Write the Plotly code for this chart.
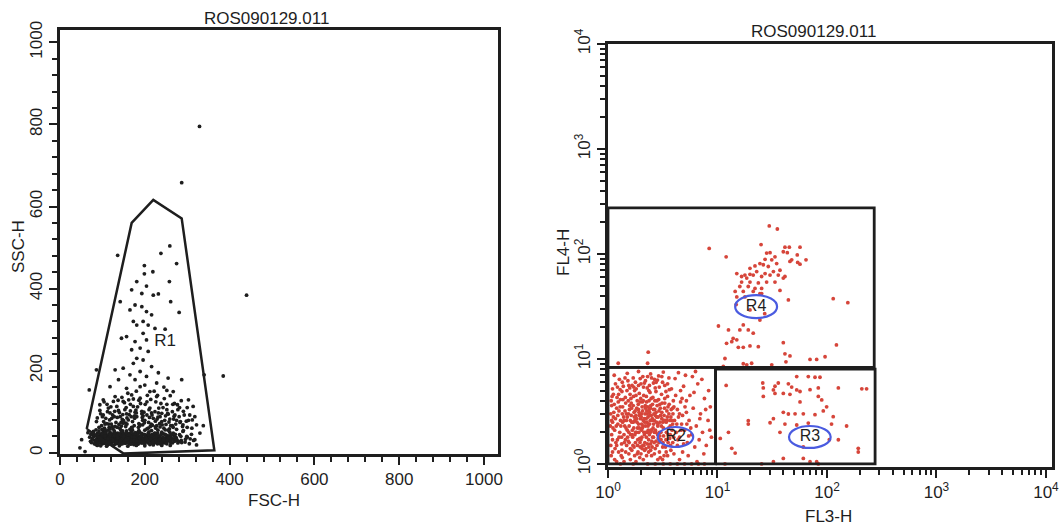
import plotly.graph_objects as go

# ---------------- data ----------------
title_text = "ROS090129.011"

# Left plot: FSC-H vs SSC-H events
left_core = [
    (70,38),(74,25),(78,44),(82,30),(85,20),(88,48),(90,36),(93,27),(95,42),(98,32),(100,22),(102,52),
    (104,38),(106,28),(108,45),(110,33),(112,19),(114,41),(116,30),(118,50),(120,24),(122,37),(124,44),
    (126,29),(128,34),(130,21),(132,47),(134,39),(136,26),(138,33),(140,42),(142,20),(144,36),(146,28),
    (148,49),(150,31),(152,40),(154,23),(156,35),(158,45),(160,27),(162,38),(164,22),(166,32),(168,43),
    (170,26),(172,36),(174,20),(176,30),(178,41),(180,25),(182,34),(184,21),(186,39),(188,28),(190,33),
    (192,24),(194,44),(196,29),(198,36),(200,22),(202,31),(204,27),(206,40),(208,24),(210,33),(212,20),
    (214,29),(216,37),(218,25),(220,31),(222,23),(224,42),(226,28),(228,35),(230,22),(232,30),(234,26),
    (236,38),(238,21),(240,33),(242,27),(244,46),(246,24),(248,31),(250,36),(252,22),(255,29),(258,41),
    (261,25),(264,33),(267,48),(270,28),(274,37),(278,24),(282,44),(286,30),(290,52),(295,26),(300,38),
    (305,22),(310,45),(315,30),
    (76,33),(80,40),(84,27),(87,35),(91,31),(94,46),(97,24),(99,39),(103,34),(105,23),(107,31),(109,40),
    (111,26),(113,36),(115,45),(117,22),(119,35),(121,30),(123,26),(125,40),(127,32),(129,27),(131,37),
    (133,30),(135,23),(137,43),(139,28),(141,35),(143,31),(145,24),(147,38),(149,27),(151,33),(153,45),
    (155,29),(157,25),(159,37),(161,32),(163,28),(165,40),(167,24),(169,35),(171,30),(173,42),(175,27),
    (177,34),(179,23),(181,37),(185,31),(189,26),(193,38),(197,32),(201,27),(205,35),(209,30),(213,43),
    (217,33),(221,27),(225,36),(229,31),(233,40),(237,29),(241,24),(245,35),(249,28),(253,42),(257,32),
    (262,38),(268,33),(276,30),
    (105,60),(125,58),(145,65),(165,57),(185,62),(205,58),(225,63),(245,60),(265,66),(115,70),(155,72),
    (195,68),(235,71),(275,57),(135,62),(175,66),(215,70),(255,55),
]
left_core_extra = [
    (72,28),(77,36),(81,22),(83,43),(86,30),(89,25),(92,39),(96,28),(101,44),(104,26),(108,36),(112,29),
    (116,38),(119,27),(123,33),(127,46),(130,29),(134,35),(138,24),(141,31),(144,44),(147,33),(151,26),
    (154,39),(158,30),(161,24),(164,35),(168,29),(172,46),(175,33),(178,28),(182,42),(186,24),(190,37),
    (194,30),(198,26),(203,43),(207,29),(211,38),(215,23),(219,35),(223,30),(227,26),(231,41),(235,33),
    (239,27),(243,38),(247,30),(251,25),(256,36),(260,29),(265,24),(270,40),(275,33),(280,27),(73,45),
    (79,52),(85,56),(92,53),(99,57),(107,50),(113,55),(120,46),(128,53),(136,48),(143,56),(150,46),
    (157,53),(164,47),(171,55),(178,49),(186,54),(193,47),(200,55),(208,48),(216,54),(223,47),(231,55),
    (240,50),(248,45),(259,50),(272,45),(285,40),(296,33),(88,18),(96,17),(110,16),(125,18),(140,17),
    (160,16),(180,18),(200,17),(220,19),(240,18),(260,18),(100,30),(117,33),(133,27),(152,36),(170,33),
    (187,29),(202,38),(219,27),(236,33),(253,31),
    (91,23),(94,34),(99,47),(102,27),(106,41),(110,23),(114,34),(118,44),(121,21),(125,30),(129,42),
    (132,25),(136,37),(140,46),(143,28),(147,22),(150,40),(153,29),(157,48),(160,35),(163,44),(167,21),
    (170,39),(174,30),(177,47),(181,29),(184,44),(188,35),(191,41),(195,24),(199,45),(204,33),(209,44),
    (214,35),(218,45),(222,39),(228,44),(233,24),(238,44),(244,31),(250,43),(88,41),(108,50),(128,50),
    (148,53),(168,51),(188,50),(210,51),(230,48),(115,26),(135,42),(155,32),(175,38),(195,34),(215,41),
]
left_mid = [
    (94,117),(114,109),(134,113),(153,105),(173,113),(193,101),(212,109),(232,97),(252,105),(271,92),
    (291,101),(314,113),(318,88),(102,92),(122,84),(142,88),(161,80),(181,88),(200,79),(220,84),(240,76),
    (259,82),(283,74),(303,79),(322,68),(338,66),(86,76),(110,71),(130,64),(149,72),(169,62),(189,68),
    (208,60),(228,66),(248,56),(267,62),(291,54),(311,60),(330,48),(94,103),(118,97),(138,103),(157,95),
    (177,99),(196,90),(216,97),(236,88),(255,94),(275,79),(106,56),(145,52),(185,52),(224,48),(263,44),
    (299,40),(318,32),(307,34),(287,25),(322,19),
    (98,66),(108,84),(116,62),(124,92),(132,74),(140,98),(147,81),(155,64),(163,93),(171,76),(179,104),
    (186,71),(194,86),(201,118),(209,74),(217,92),(225,77),(233,109),(241,68),(249,90),(257,75),(265,100),
    (273,70),(281,88),(289,64),(298,77),(306,92),(126,125),(146,135),(166,118),(186,128),(206,140),
    (226,124),(246,132),(266,118),(286,127),(112,100),(156,110),(198,99),(238,120),(278,105),(103,76),
    (121,70),(139,69),(158,85),(176,90),(195,79),(213,64),(231,87),(250,69),(268,82),(160,145),(180,150),
    (222,150),(245,160),(200,165),
]
left_mid_extra = [
    (92,62),(100,88),(106,70),(111,118),(117,80),(123,64),(129,101),(135,86),(141,60),(148,93),(152,122),
    (158,70),(166,102),(170,61),(176,84),(183,112),(188,66),(193,95),(199,73),(205,124),(211,86),(218,67),
    (224,100),(229,82),(236,63),(243,110),(247,79),(254,96),(261,66),(269,89),(277,117),(284,76),(293,92),
    (300,62),(312,80),(96,95),(104,124),(120,112),(137,128),(150,78),(162,129),(173,131),(190,120),
    (214,130),(230,140),(252,118),(260,139),(282,110),(88,85),(128,88),(180,97),(210,105),(240,96),
    (270,120),(300,110),(118,58),(144,74),(168,88),(205,92),(226,60),(258,58),(290,68),
]
left_upper = [
    (136,481),(238,486),(259,504),(275,461),(199,456),(219,441),(199,436),(258,417),(181,417),(204,406),
    (169,397),(193,388),(220,384),(232,387),(142,368),(261,368),(177,360),(193,356),(204,344),(165,348),
    (281,342),(216,336),(173,320),(196,320),(181,311),(208,311),(224,303),(248,301),(196,291),(157,283),
    (177,271),(204,275),(145,279),(189,255),(169,251),(208,247),(181,230),(196,226),(173,218),(216,210),
    (149,206),(189,198),(130,202),(232,195),(165,190),(204,186),(138,178),(177,178),(255,182),(287,178),
    (228,170),(118,161),(189,161),(157,157),(252,152),(267,149),(212,149),(169,141),(130,137),(228,137),
    (189,133),(303,129),(149,125),(102,129),
]
left_outliers = [
    (329,795),(287,658),(440,384),(385,187),(340,190),(69,153),(86,202),(51,32),(47,12),(59,3),(66,49),
]
r1_gate = [(63,58),(169,560),(220,616),(287,571),(364,6),(150,-2),(63,58)]
r1_label = ("R1", 248, 271)

# Right plot: FL3-H vs FL4-H events
r2_events = [
    (1.1,1.3),(1.15,2.1),(1.2,3.4),(1.22,1.7),(1.25,4.6),(1.3,2.6),(1.32,1.2),(1.35,3.0),(1.38,5.5),(1.4,1.9),
    (1.42,2.3),(1.45,3.8),(1.48,1.5),(1.5,2.8),(1.52,6.2),(1.55,2.0),(1.57,3.3),(1.6,1.4),(1.62,4.2),(1.65,2.5),
    (1.68,1.8),(1.7,3.6),(1.72,2.2),(1.75,5.0),(1.78,1.6),(1.8,2.9),(1.82,2.0),(1.85,4.0),(1.88,1.3),(1.9,2.4),
    (1.92,3.1),(1.95,1.75),(1.98,2.7),(2.0,5.8),(2.02,2.1),(2.05,3.5),(2.08,1.5),(2.1,2.6),(2.12,4.5),(2.15,1.9),
    (2.18,3.0),(2.2,2.3),(2.22,1.4),(2.25,3.9),(2.28,2.0),(2.3,6.8),(2.32,2.8),(2.35,1.7),(2.38,3.3),(2.4,2.4),
    (2.42,4.8),(2.45,1.55),(2.48,2.9),(2.5,2.1),(2.55,3.7),(2.6,1.8),(2.65,2.6),(2.7,5.3),(2.75,3.1),(2.8,1.5),
    (2.85,2.3),(2.9,4.1),(2.95,2.0),(3.0,3.4),(3.05,1.7),(3.1,2.7),(3.15,6.0),(3.2,2.2),(3.3,3.8),(3.35,1.45),
    (3.4,2.5),(3.5,4.4),(3.55,1.9),(3.6,3.0),(3.7,2.3),(3.8,5.2),(3.9,1.6),(4.0,3.5),
    (1.12,2.8),(1.18,1.6),(1.24,3.9),(1.28,2.0),(1.33,1.55),(1.36,2.5),(1.44,4.3),(1.46,2.2),(1.53,1.65),
    (1.58,3.6),(1.63,2.9),(1.66,5.6),(1.73,1.45),(1.76,2.6),(1.83,3.4),(1.86,2.2),(1.93,4.7),(1.96,1.6),
    (2.03,2.4),(2.06,3.9),(2.13,2.0),(2.16,1.35),(2.23,2.7),(2.26,3.2),(2.33,2.1),(2.36,5.0),(2.43,2.6),
    (2.46,3.6),(2.53,1.45),(2.58,2.2),(2.63,3.0),(2.68,4.0),(2.73,2.0),(2.78,2.8),(2.83,6.3),(2.88,1.75),
    (2.98,2.5),(3.08,4.6),(3.18,1.6),(3.25,2.9),(3.45,3.2),(3.65,1.75),(3.75,2.8),(3.95,4.0),(1.08,3.6),
    (1.1,5.2),(1.14,7.0),(1.2,1.05),(1.27,6.4),(1.34,4.9),(1.5,7.3),(1.6,1.1),(1.7,6.6),(1.9,7.6),(2.1,1.1),
    (2.2,6.2),(2.45,7.2),(2.6,5.9),(2.9,6.9),(3.2,7.5),(1.05,2.3),(1.06,1.5),(1.4,1.05),(1.8,1.05),(2.0,1.25),
    (2.5,1.2),(3.0,1.15),(3.4,1.3),
    (4.2,2.0),(4.3,1.5),(4.4,2.8),(4.5,1.8),(4.6,3.9),(4.7,2.4),(4.8,1.3),(4.9,5.5),(5.0,2.1),(5.2,3.1),
    (5.3,1.6),(5.5,2.6),(5.6,4.5),(5.8,1.9),(6.0,3.4),(6.2,1.45),(6.4,2.3),(6.6,5.8),(6.8,1.7),(7.0,3.0),
    (7.3,2.0),(7.6,4.2),(7.9,1.5),(8.2,2.6),(8.6,3.5),(8.8,1.8),(4.1,6.5),(4.4,7.4),(5.1,7.0),(5.9,6.8),
    (6.3,7.6),(7.2,6.4),(4.5,1.1),(5.4,1.2),(6.5,1.05),(7.5,1.25),(8.3,5.0),(3.3,5.6),(3.6,6.6),(3.9,2.4),
    (4.0,1.25),(4.3,3.3),(4.8,2.9),(5.7,2.2),(6.9,2.7),(7.8,3.3),(8.5,2.1),(4.6,5.0),(5.2,4.0),(6.1,4.8),
    (1.3,1.0),(1.7,1.0),(2.3,1.0),(2.7,1.0),(3.2,1.0),(3.7,1.0),(4.3,1.0),(5.0,1.0),(5.8,1.0),(6.7,1.0),(7.6,1.0),
]
r2_events_extra = [
    (1.08,1.9),(1.1,2.5),(1.13,3.1),(1.16,1.4),(1.19,2.3),(1.21,4.3),(1.23,2.9),(1.26,1.8),(1.29,3.5),
    (1.31,2.3),(1.34,1.35),(1.37,4.1),(1.39,2.8),(1.41,1.6),(1.43,3.2),(1.47,2.6),(1.49,5.0),(1.51,1.8),
    (1.54,3.0),(1.56,2.3),(1.59,4.6),(1.61,1.9),(1.64,3.4),(1.67,2.1),(1.69,1.5),(1.71,4.4),(1.74,2.8),
    (1.77,3.2),(1.79,2.0),(1.81,5.2),(1.84,2.5),(1.87,1.7),(1.89,3.7),(1.91,2.0),(1.94,2.9),(1.97,1.45),
    (1.99,4.2),(2.01,2.8),(2.04,1.8),(2.07,3.2),(2.09,2.3),(2.11,5.4),(2.14,2.7),(2.17,1.6),(2.19,3.6),
    (2.21,2.0),(2.24,4.4),(2.27,2.5),(2.29,1.55),(2.31,3.5),(2.34,2.4),(2.37,4.0),(2.39,1.9),(2.41,2.9),
    (2.44,3.4),(2.47,2.1),(2.51,1.65),(2.54,2.7),(2.57,4.3),(2.61,2.4),(2.64,1.6),(2.67,3.3),(2.71,2.1),
    (2.74,4.9),(2.77,2.5),(2.81,3.6),(2.84,1.9),(2.87,2.8),(2.92,3.2),(2.97,1.85),(3.02,2.9),(3.07,2.3),
    (3.12,3.8),(3.17,2.5),(3.22,1.85),(3.28,3.4),(3.32,2.6),(3.38,4.9),(3.42,2.0),(3.48,2.8),(3.53,3.5),
    (3.58,2.2),(3.63,5.1),(3.68,2.6),(3.72,1.5),(3.78,3.3),(3.85,2.1),(3.92,3.0),(3.98,1.8),(4.05,2.6),
    (4.15,4.5),(4.25,2.4),(4.35,1.7),(4.5,3.0),(4.65,2.1),(4.75,4.2),(4.9,1.55),(5.05,3.5),(5.25,2.4),
    (5.45,1.85),(1.07,1.2),(1.09,4.4),(1.17,5.8),(1.29,5.1),(1.43,6.6),(1.58,5.3),(1.78,6.0),(1.97,6.5),
    (2.15,5.9),(2.39,5.6),(2.66,6.4),(2.94,5.4),(3.1,6.8),(3.5,5.8),(1.15,1.1),(1.35,1.15),(1.55,1.25),
    (1.75,1.2),(1.95,1.15),(2.35,1.3),(2.65,1.25),(2.85,1.1),(3.25,1.2),(3.75,1.35),
    (1.11,2.2),(1.14,3.7),(1.17,2.7),(1.2,1.5),(1.23,2.4),(1.26,3.2),(1.3,4.1),(1.33,1.8),(1.36,3.5),
    (1.4,2.6),(1.44,1.7),(1.47,3.0),(1.5,2.1),(1.53,4.0),(1.56,1.6),(1.6,2.6),(1.63,3.8),(1.66,1.9),
    (1.7,2.5),(1.73,3.1),(1.76,1.9),(1.8,4.5),(1.83,2.7),(1.86,1.5),(1.9,3.3),(1.93,2.2),(1.96,3.9),
    (2.0,1.7),(2.03,3.0),(2.06,2.2),(2.1,4.0),(2.13,1.5),(2.17,2.5),(2.2,3.4),(2.24,1.8),(2.28,3.0),
    (2.32,2.3),(2.36,1.45),(2.4,3.1),(2.44,2.0),(2.48,4.2),(2.52,2.6),(2.56,1.8),(2.6,3.3),(2.65,2.0),
    (2.7,2.9),(2.75,1.65),(2.8,4.0),(2.86,2.4),(2.92,1.6),(2.98,3.7),(3.04,2.0),(3.1,3.1),(3.16,1.45),
    (3.22,2.6),(3.3,4.2),(3.38,1.7),(3.46,2.6),(3.54,1.6),(3.62,3.7),(3.7,1.9),(3.8,2.6),(3.9,3.4),
    (1.12,4.6),(1.22,5.4),(1.35,6.0),(1.55,5.6),(1.72,5.4),(1.9,5.6),(2.08,6.8),(2.28,5.3),(2.5,6.6),
    (2.75,6.0),(1.06,3.0),(1.07,4.0),(1.08,2.6),(1.1,1.7),(1.25,1.3),(1.45,1.3),(1.65,1.35),(1.85,1.25),
    (2.05,1.4),(2.25,1.2),(2.45,1.35),(2.7,1.4),(2.95,1.3),(3.15,1.1),(3.5,1.2),
]
near_r2_top = [(2.33,11.6),(2.3,9.1),(1.24,9.1)]
r4_events = [
    (29.7,185),(35.2,173),(8.4,113),(12.0,94),(25,123),(41.3,116),(45.3,116),(56.7,116),(39.9,105),(43.4,103),
    (53.5,98),(64.3,88),(56.7,80),(54,83),(47.6,88),(45.9,85),(28.1,102),(30.2,103),(33.5,94),(27.2,89),
    (31.3,88),(24.4,81),(22.0,77),(26.2,79),(29.1,76),(34.7,81),(37.2,70),(32.4,68),(27.2,65),(22.8,68),
    (19.8,73),(21.2,63),(25.3,61),(30.2,63),(35.9,63),(39.9,59),(18.5,59),(16.6,54),(19.8,54),(23.6,53),
    (28.1,54),(33.5,54),(16.0,49),(19.1,49),(22.0,47),(25.3,47),(14.5,44),(17.2,44),(21.2,44),(25.3,42),
    (15.0,39),(17.8,39),(37.2,45),(41.3,61),(15.0,65),(16.6,61),(17.8,63),(19.8,64),
    (10.2,20.6),(12.6,18.9),(13.9,15.7),(16.0,18.9),(17.2,21.1),(19.1,18.9),(21.2,17.6),(12.1,14.1),
    (13.5,14.6),(15.0,15.2),(15.5,12.9),(17.2,12.9),(19.8,13.3),(23.6,13.1),(11.7,10.1),(11.3,8.5),
    (17.2,9.0),(18.5,8.8),(20.5,9.1),(31.3,8.8),(39.9,14.3),(41.3,11.2),(45.9,10.7),(42.2,9.4),(70,9.9),
    (80.5,9.9),(96,10.5),(122,13.6),(114,37.5),(155,34.4),(44.4,36.5),(24.4,23.5),(24.4,42),(19.8,29.3),
    (27,27),(14.8,33),
]
r3_events = [
    (52.9,6.8),(67.5,6.8),(77.7,6.7),(86.3,6.7),(35.9,5.9),(44.4,5.8),(47.6,5.4),(56.7,4.9),(70,5.1),
    (83.3,5.3),(26.2,5.3),(33.5,4.7),(39.9,4.7),(45.9,4.6),(26.2,4.4),(127,5.3),(208,5.2),(230,5.2),
    (83.3,4.4),(56.7,3.9),(99.3,3.5),(39.9,3.1),(51.1,3.0),(60.8,3.0),(77.7,2.95),(92.5,3.2),(32.4,2.7),
    (19.1,2.4),(41.3,2.4),(52.9,2.35),(67.5,2.45),(110,2.4),(151,2.3),(37.2,2.0),(127,1.7),(105,1.7),
    (12.6,2.0),(10.6,1.75),(14.5,1.27),(193,1.3),(39.9,1.13),(60.8,1.13),(70,1.05),(83.3,1.0),(25.3,1.0),
    (11.7,1.0),(60.8,1.45),(12.0,5.6),(25.9,5.9),(33.5,5.5),(32.4,5.07),(52.9,5.07),(89.5,4.07),(114,2.82),
    (19.1,2.58),(30.2,2.47),(44.4,2.99),(13.5,1.41),(193,1.41),(32.4,1.05),(80.5,1.05),
]
# gates: (x0, x1, y0, y1) in data units
r2_gate = (1.0, 9.6, 1.0, 8.3)
r3_gate = (9.6, 275, 1.0, 8.0)
r4_gate = (1.0, 270, 8.3, 275)
# ellipse labels: name, x-range, y-range, label position
r2_label = ("R2", (2.85, 6.0), (1.45, 2.25), (4.15, 1.8))
r3_label = ("R3", (45, 108), (1.42, 2.3), (70, 1.8))
r4_label = ("R4", (14.5, 35), (24.5, 40.5), (22.5, 31.5))

# ---------------- figure ----------------
FONT = "Liberation Sans, Arial, Helvetica, sans-serif"
INK = "#1e1e1e"
RED = "#d6453a"
BLUE = "#4a5be0"
W, H = 1064, 527

fig = go.Figure()

def add_pts(pts, color, size, xa, ya):
    fig.add_trace(go.Scatter(
        x=[p[0] for p in pts], y=[p[1] for p in pts], mode="markers",
        marker=dict(color=color, size=size, line=dict(width=0)),
        xaxis=xa, yaxis=ya, showlegend=False, hoverinfo="skip"))

for grp in (left_core, left_core_extra, left_mid, left_mid_extra, left_upper, left_outliers):
    add_pts(grp, INK, 3.8, "x", "y")

fig.add_trace(go.Scatter(x=[p[0] for p in r1_gate], y=[p[1] for p in r1_gate], mode="lines",
                         line=dict(color=INK, width=2.5), xaxis="x", yaxis="y",
                         showlegend=False, hoverinfo="skip"))
fig.add_trace(go.Scatter(x=[r1_label[1]], y=[r1_label[2]], mode="text", text=[r1_label[0]],
                         textfont=dict(family=FONT, size=17, color=INK), xaxis="x", yaxis="y",
                         showlegend=False, hoverinfo="skip"))

for grp in (r2_events, r2_events_extra, near_r2_top, r4_events, r3_events):
    add_pts(grp, RED, 3.8, "x2", "y2")

for g in (r4_gate, r3_gate, r2_gate):
    x0, x1, y0, y1 = g
    fig.add_trace(go.Scatter(x=[x0, x1, x1, x0, x0], y=[y0, y0, y1, y1, y0], mode="lines",
                             line=dict(color=INK, width=2.8), xaxis="x2", yaxis="y2",
                             showlegend=False, hoverinfo="skip"))

for name, xr, yr, pos in (r2_label, r3_label, r4_label):
    fig.add_shape(type="circle", xref="x2", yref="y2", x0=xr[0], x1=xr[1], y0=yr[0], y1=yr[1],
                  line=dict(color=BLUE, width=2.2))
    fig.add_trace(go.Scatter(x=[pos[0]], y=[pos[1]], mode="text", text=[name],
                             textfont=dict(family=FONT, size=16, color=INK), xaxis="x2", yaxis="y2",
                             showlegend=False, hoverinfo="skip"))

axis_common = dict(showline=True, mirror=True, linecolor=INK, linewidth=2.5, showgrid=False,
                   zeroline=False, ticks="outside", ticklen=8, tickwidth=2, tickcolor=INK,
                   automargin=False, tickfont=dict(family=FONT, size=17, color=INK))

lin_ticks = [0, 200, 400, 600, 800, 1000]
log_ticks = [1, 10, 100, 1000, 10000]
log_text = ["10<sup>%d</sup>" % i for i in range(5)]
log_minor = [m * 10 ** d for d in range(4) for m in range(2, 10)]

fig.update_layout(
    template="none",
    width=W, height=H, margin=dict(l=0, r=0, t=0, b=0, autoexpand=False),
    paper_bgcolor="white", plot_bgcolor="white",
    xaxis=dict(domain=[60 / W, 498 / W], range=[0, 1033], tickmode="array", tickvals=lin_ticks,
               minor=dict(dtick=40, tick0=0, ticks="outside", ticklen=5, tickwidth=2, tickcolor=INK),
               anchor="y", **axis_common),
    yaxis=dict(domain=[1 - 454 / H, 1 - 30 / H], range=[-3, 1030], tickmode="array", tickvals=lin_ticks,
               tickangle=-90,
               minor=dict(dtick=40, tick0=0, ticks="outside", ticklen=5, tickwidth=2, tickcolor=INK),
               anchor="x", **axis_common),
    xaxis2=dict(domain=[608 / W, 1052 / W], type="log", range=[0, 4.055], tickmode="array",
                tickvals=log_ticks, ticktext=log_text,
                minor=dict(tickmode="array", tickvals=log_minor, ticks="outside", ticklen=5,
                           tickwidth=1.5, tickcolor=INK),
                anchor="y2", **axis_common),
    yaxis2=dict(domain=[1 - 467 / H, 1 - 44 / H], type="log", range=[-0.029, 4.0], tickmode="array",
                tickvals=log_ticks, ticktext=log_text, tickangle=-90,
                minor=dict(tickmode="array", tickvals=log_minor, ticks="outside", ticklen=5,
                           tickwidth=1.5, tickcolor=INK),
                anchor="x2", **axis_common),
)

def label(text, x, y, angle=0):
    fig.add_annotation(text=text, x=x / W, y=1 - y / H, xref="paper", yref="paper",
                       showarrow=False, textangle=angle, xanchor="center", yanchor="middle",
                       font=dict(family=FONT, size=17, color=INK))

label(title_text, 266, 19)
label(title_text, 813, 31)
label("FSC-H", 274, 500)
label("SSC-H", 18, 247, -90)
label("FL3-H", 828, 516)
label("FL4-H", 563, 253, -90)

fig.write_html("out.html")
